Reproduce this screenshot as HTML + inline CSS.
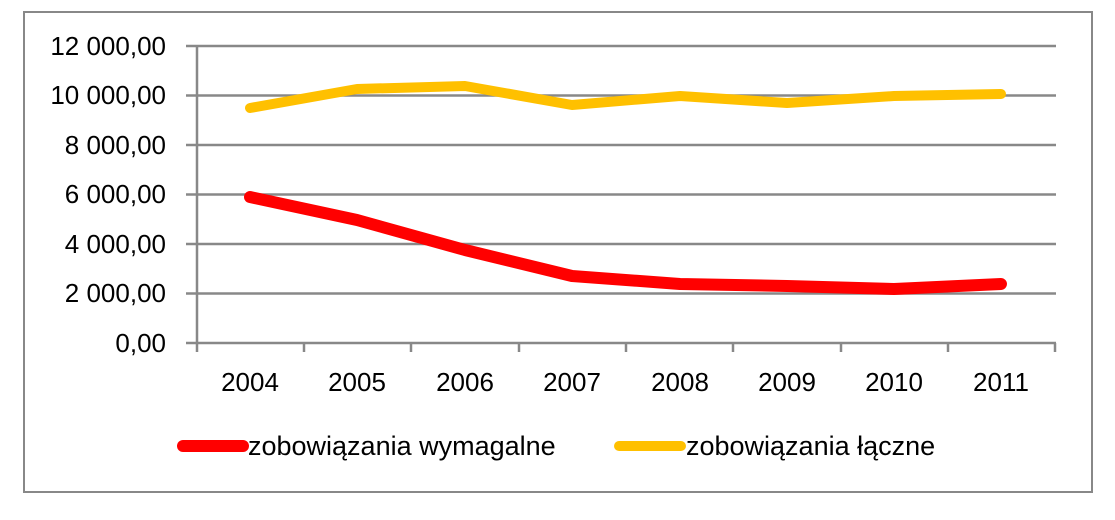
<!DOCTYPE html>
<html><head><meta charset="utf-8"><style>
body{margin:0;background:#fff;width:1115px;height:515px;overflow:hidden}
text{font-family:"Liberation Sans",sans-serif;font-size:26px;fill:#000}
</style></head><body>
<svg width="1115" height="515" xmlns="http://www.w3.org/2000/svg">
<rect x="24" y="12" width="1068" height="480" fill="#fff" stroke="#888" stroke-width="2"/>
<g stroke="#888" stroke-width="2.5">
<line x1="186" y1="46" x2="1056" y2="46"/>
<line x1="186" y1="95.5" x2="1056" y2="95.5"/>
<line x1="186" y1="145" x2="1056" y2="145"/>
<line x1="186" y1="194.5" x2="1056" y2="194.5"/>
<line x1="186" y1="244" x2="1056" y2="244"/>
<line x1="186" y1="293.5" x2="1056" y2="293.5"/>
<line x1="186" y1="343" x2="1056" y2="343"/>
<line x1="197" y1="46" x2="197" y2="352"/>
<line x1="304" y1="343" x2="304" y2="352"/>
<line x1="411" y1="343" x2="411" y2="352"/>
<line x1="519" y1="343" x2="519" y2="352"/>
<line x1="626" y1="343" x2="626" y2="352"/>
<line x1="733" y1="343" x2="733" y2="352"/>
<line x1="841" y1="343" x2="841" y2="352"/>
<line x1="948" y1="343" x2="948" y2="352"/>
<line x1="1055" y1="343" x2="1055" y2="352"/>
</g>
<g text-anchor="end">
<text x="166" y="55">12 000,00</text>
<text x="166" y="104">10 000,00</text>
<text x="166" y="154">8 000,00</text>
<text x="166" y="203">6 000,00</text>
<text x="166" y="253">4 000,00</text>
<text x="166" y="302">2 000,00</text>
<text x="166" y="352">0,00</text>
</g>
<g text-anchor="middle">
<text x="250" y="391">2004</text>
<text x="357" y="391">2005</text>
<text x="465" y="391">2006</text>
<text x="572" y="391">2007</text>
<text x="680" y="391">2008</text>
<text x="787" y="391">2009</text>
<text x="894" y="391">2010</text>
<text x="1001" y="391">2011</text>
</g>
<polyline fill="none" stroke="#FFC000" stroke-width="10" stroke-linecap="round" stroke-linejoin="round" points="250,108 357,89 465,86 572,105 680,96 787,103 894,96 1001,94"/>
<polyline fill="none" stroke="#FF0000" stroke-width="12" stroke-linecap="round" stroke-linejoin="round" points="250,197 357,220 465,250 572,276 680,284 787,286 894,289 1001,284"/>
<line x1="183" y1="446" x2="243" y2="446" stroke="#FF0000" stroke-width="12" stroke-linecap="round"/>
<text x="248" y="455" style="font-size:27px">zobowiązania wymagalne</text>
<line x1="619" y1="446" x2="681" y2="446" stroke="#FFC000" stroke-width="10" stroke-linecap="round"/>
<text x="686" y="455" style="font-size:27px">zobowiązania łączne</text>
</svg>
</body></html>
